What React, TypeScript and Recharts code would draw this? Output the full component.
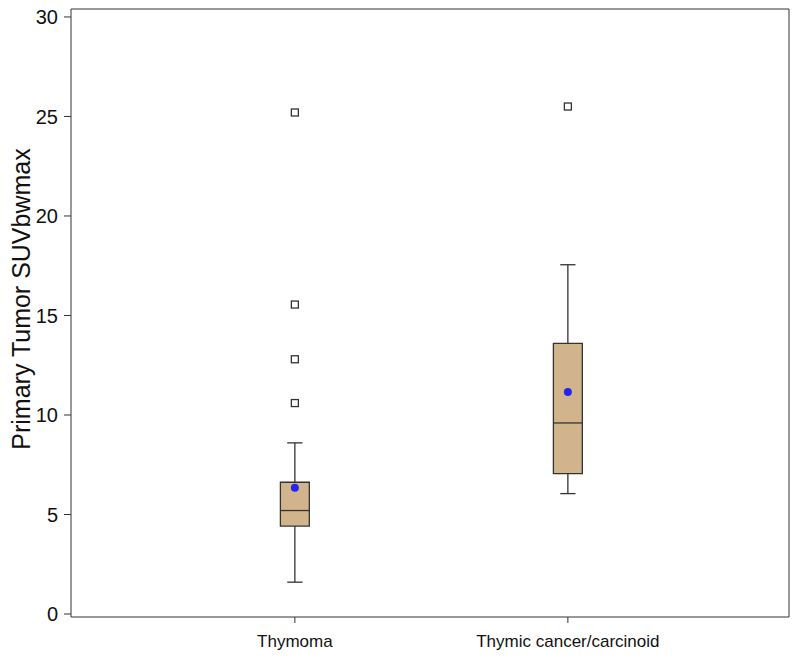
import {
  ComposedChart,
  Scatter,
  XAxis,
  YAxis,
  ReferenceArea,
  ReferenceLine,
} from 'recharts'

const categories = ['Thymoma', 'Thymic cancer/carcinoid']
const positions = [1, 2]
const whiskerLow = [1.6, 6.05]
const q1 = [4.42, 7.05]
const median = [5.2, 9.6]
const q3 = [6.62, 13.6]
const whiskerHigh = [8.6, 17.55]
const means = [6.35, 11.15]
const outliers = [
  [25.2, 15.55, 12.8, 10.6],
  [25.5],
]
const yTicks = [0, 5, 10, 15, 20, 25, 30]
const yTitle = 'Primary Tumor SUVbwmax'

const X_DOMAIN: [number, number] = [0.18, 2.81]
const Y_DOMAIN: [number, number] = [-0.15, 30.4]
const BOX_HALF = 0.053
const CAP_HALF = 0.028
const INK = '#333'
const FONT = 'Arial, "Liberation Sans", sans-serif'

const outlierData = outliers.flatMap((vals, i) => vals.map((v) => ({ x: positions[i], y: v })))
const meanData = means.map((v, i) => ({ x: positions[i], y: v }))

const OutlierShape = (props: any) => (
  <rect x={props.cx - 3.5} y={props.cy - 3.5} width={7} height={7} fill="#fff" stroke={INK} strokeWidth={1.3} />
)
const MeanShape = (props: any) => <circle cx={props.cx} cy={props.cy} r={4} fill="#2424f0" />

// rotated axis title, placed relative to the axis viewBox
const YTitle = (props: any) => {
  const vb = props.viewBox || {}
  const x = (vb.x ?? 0) + 30
  const y = (vb.y ?? 0) + (vb.height ?? 0) / 2 - 14
  return (
    <text
      x={x}
      y={y}
      transform={`rotate(-90 ${x} ${y})`}
      textAnchor="middle"
      fill="#111"
      fontSize={25}
      fontFamily={FONT}
    >
      {yTitle}
    </text>
  )
}

export default function App() {
  return (
    <div style={{ position: 'absolute', left: 0, top: 0, background: '#fff' }}>
      <ComposedChart width={800} height={664} margin={{ top: 8, right: 10, left: 0, bottom: 0 }}>
        <XAxis
          type="number"
          dataKey="x"
          domain={X_DOMAIN}
          ticks={positions}
          tickFormatter={(v) => categories[positions.indexOf(v)] ?? ''}
          allowDataOverflow
          height={47}
          tickSize={6}
          tickMargin={12}
          stroke={INK}
          tick={{ fill: '#111', fontSize: 17, fontFamily: FONT }}
        />
        <XAxis
          xAxisId="top"
          orientation="top"
          type="number"
          domain={X_DOMAIN}
          allowDataOverflow
          height={1}
          tick={false}
          tickLine={false}
          stroke={INK}
        />
        <YAxis
          type="number"
          dataKey="y"
          domain={Y_DOMAIN}
          ticks={yTicks}
          allowDataOverflow
          width={71}
          tickSize={7}
          tickMargin={6}
          stroke={INK}
          tick={{ fill: '#111', fontSize: 20, fontFamily: FONT }}
          label={<YTitle />}
        />
        <YAxis
          yAxisId="right"
          orientation="right"
          type="number"
          domain={Y_DOMAIN}
          allowDataOverflow
          width={1}
          tick={false}
          tickLine={false}
          stroke={INK}
        />
        {positions.map((p, i) => (
          <ReferenceArea
            key={`box-${i}`}
            x1={p - BOX_HALF}
            x2={p + BOX_HALF}
            y1={q1[i]}
            y2={q3[i]}
            fill="#d2b48c"
            fillOpacity={1}
            stroke={INK}
            strokeWidth={1.3}
          />
        ))}
        {positions.map((p, i) => (
          <ReferenceLine
            key={`med-${i}`}
            segment={[{ x: p - BOX_HALF, y: median[i] }, { x: p + BOX_HALF, y: median[i] }]}
            stroke={INK}
            strokeWidth={1.3}
          />
        ))}
        {positions.map((p, i) => (
          <ReferenceLine
            key={`wh-up-${i}`}
            segment={[{ x: p, y: q3[i] }, { x: p, y: whiskerHigh[i] }]}
            stroke={INK}
            strokeWidth={1.3}
          />
        ))}
        {positions.map((p, i) => (
          <ReferenceLine
            key={`wh-lo-${i}`}
            segment={[{ x: p, y: whiskerLow[i] }, { x: p, y: q1[i] }]}
            stroke={INK}
            strokeWidth={1.3}
          />
        ))}
        {positions.map((p, i) => (
          <ReferenceLine
            key={`cap-up-${i}`}
            segment={[{ x: p - CAP_HALF, y: whiskerHigh[i] }, { x: p + CAP_HALF, y: whiskerHigh[i] }]}
            stroke={INK}
            strokeWidth={1.3}
          />
        ))}
        {positions.map((p, i) => (
          <ReferenceLine
            key={`cap-lo-${i}`}
            segment={[{ x: p - CAP_HALF, y: whiskerLow[i] }, { x: p + CAP_HALF, y: whiskerLow[i] }]}
            stroke={INK}
            strokeWidth={1.3}
          />
        ))}
        <Scatter data={outlierData} shape={OutlierShape} isAnimationActive={false} />
        <Scatter data={meanData} shape={MeanShape} isAnimationActive={false} />
      </ComposedChart>
    </div>
  )
}
